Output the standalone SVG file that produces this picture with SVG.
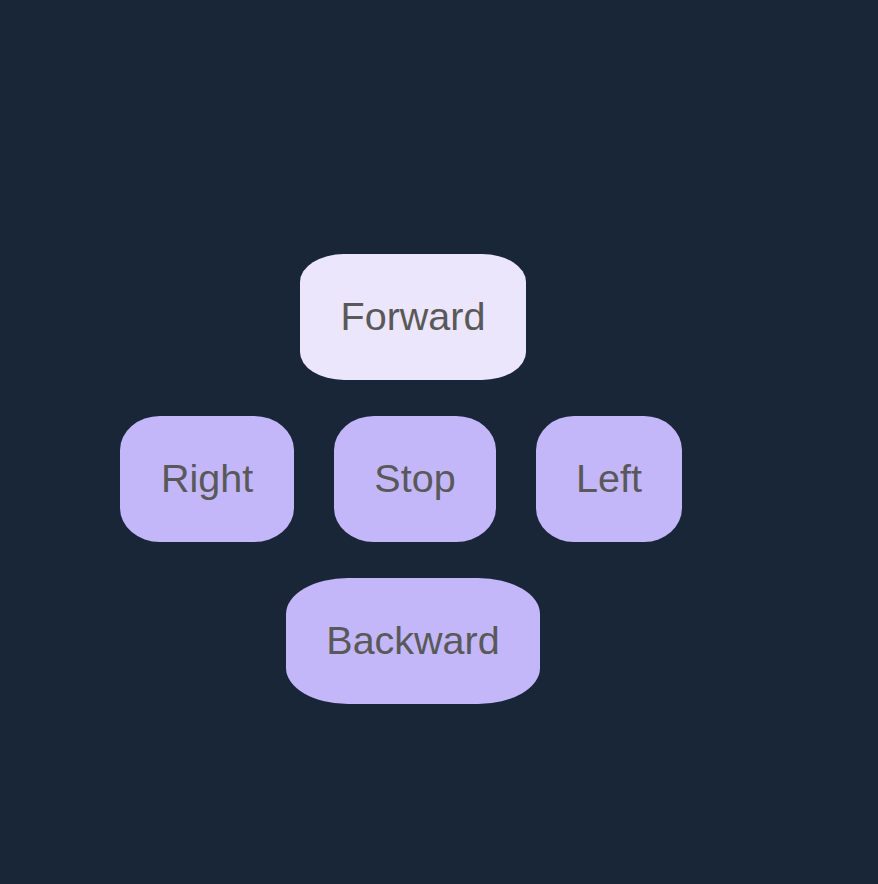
<svg xmlns="http://www.w3.org/2000/svg" width="878" height="884" viewBox="0 0 878 884">
<style>
.bg{fill:#182637}
.n rect{fill:#c3b7f9}
#forward rect{fill:#ece6fc}
.n text{font-family:"Liberation Sans",Arial,sans-serif;font-size:39.5px;fill:#595959;text-anchor:middle}
</style>
<rect class="bg" x="0" y="0" width="878" height="884"/>
<g id="connectors"></g>
<g id="forward" class="n"><rect x="300" y="254" width="226" height="126" rx="44" ry="28"/><text x="413" y="330">Forward</text></g>
<g id="right" class="n"><rect x="120" y="416" width="174" height="126" rx="40" ry="34"/><text x="207" y="492">Right</text></g>
<g id="stop" class="n"><rect x="334" y="416" width="162" height="126" rx="40" ry="34"/><text x="415" y="492">Stop</text></g>
<g id="left" class="n"><rect x="536" y="416" width="146" height="126" rx="38" ry="34"/><text x="609" y="492">Left</text></g>
<g id="backward" class="n"><rect x="286" y="578" width="254" height="126" rx="62" ry="36"/><text x="413" y="654">Backward</text></g>
</svg>
